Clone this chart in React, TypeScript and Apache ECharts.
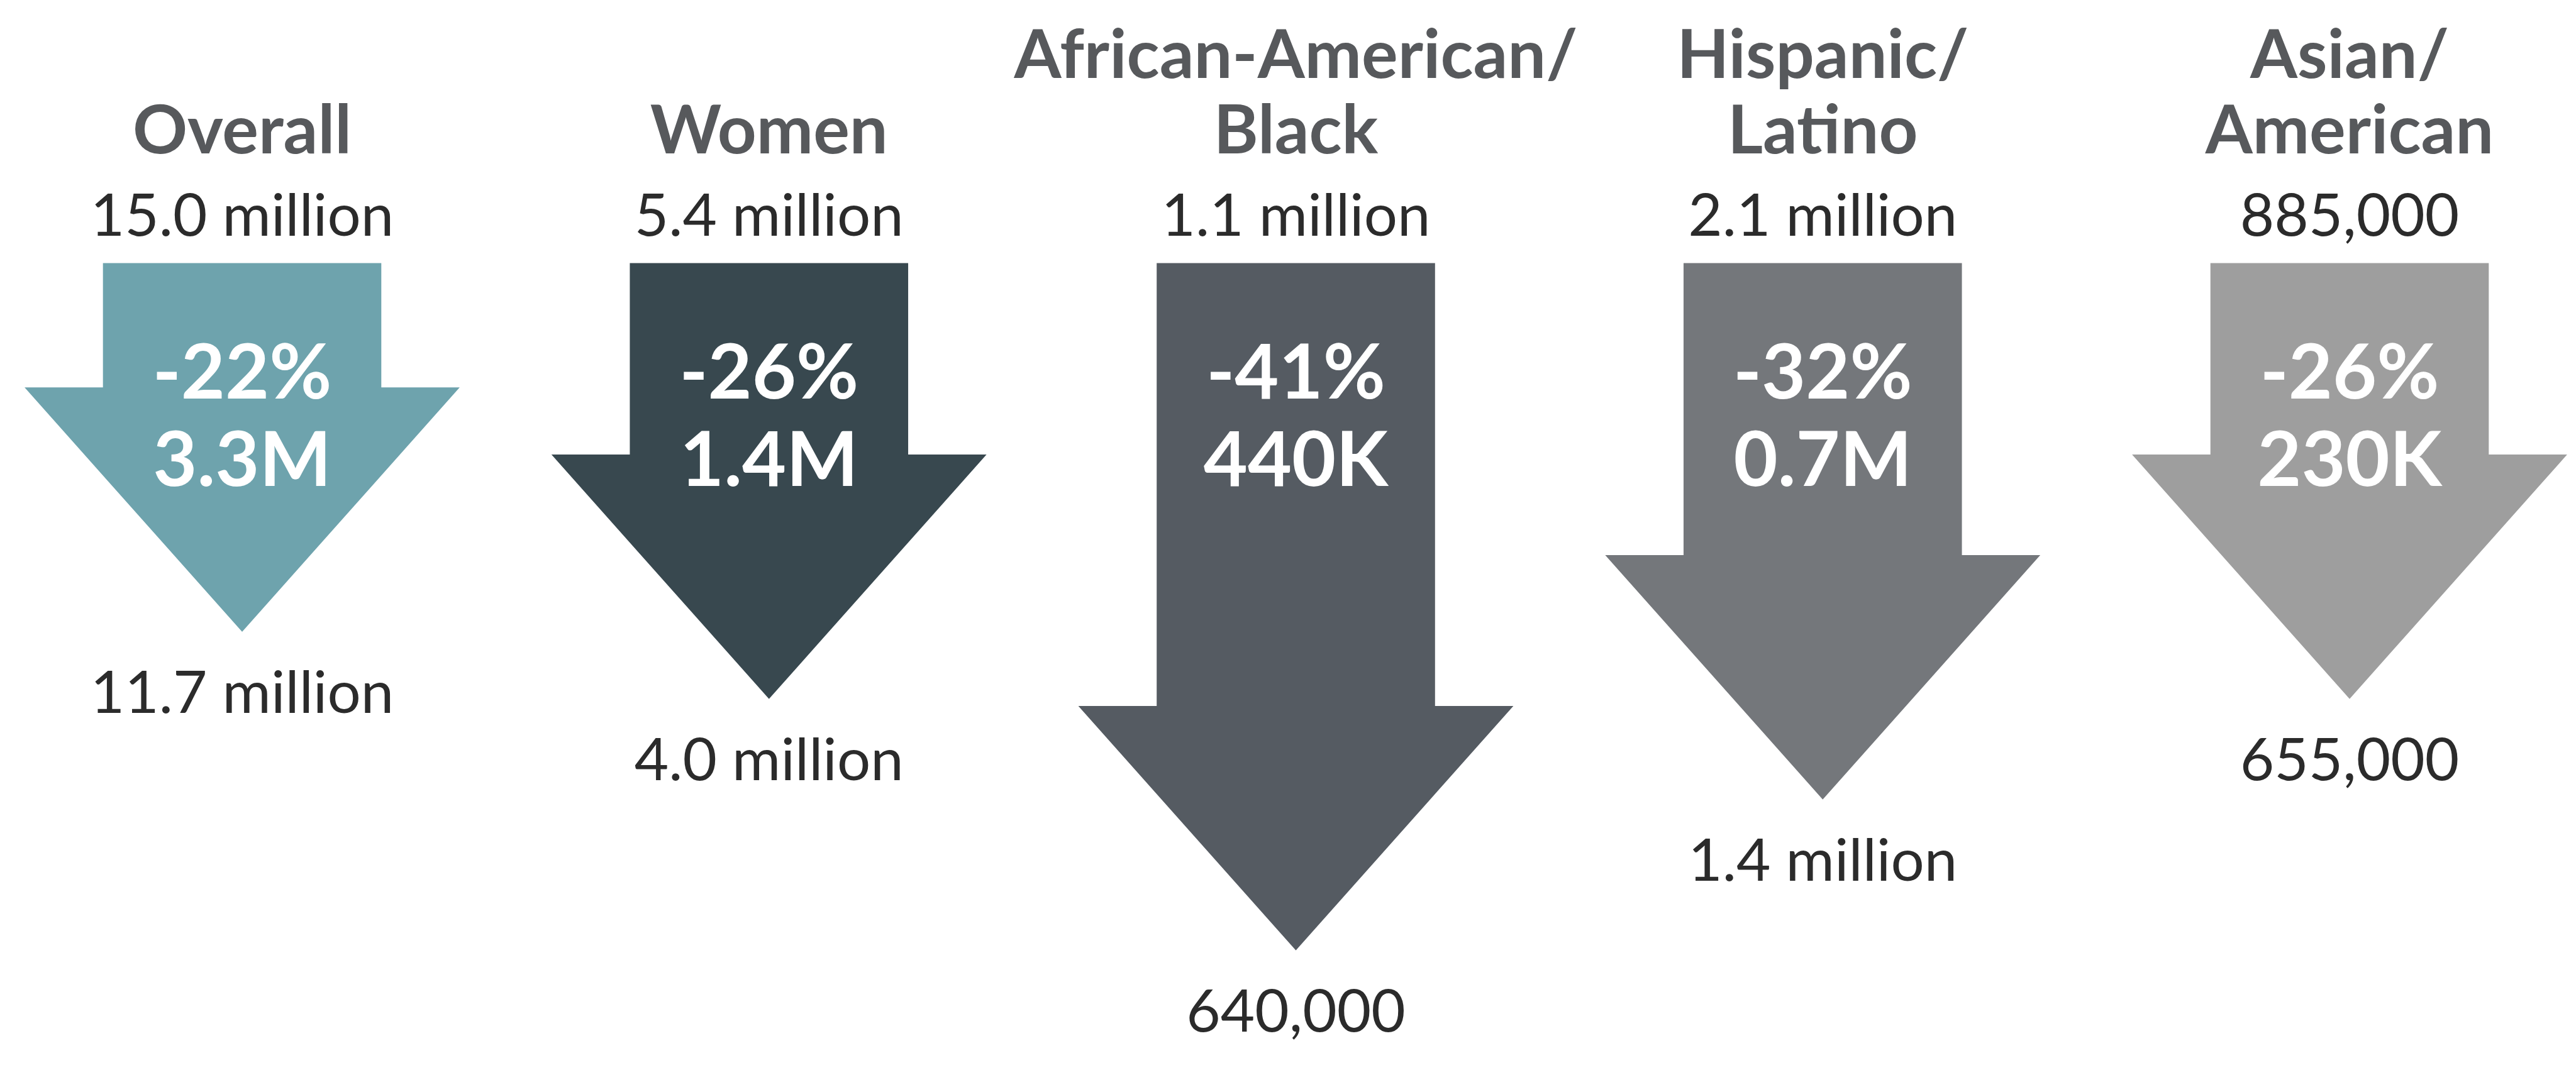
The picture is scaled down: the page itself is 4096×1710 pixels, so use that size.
import React, { useEffect, useRef } from "react";
import * as echarts from "echarts";

const categories = ["Overall", "Women", "African-American/\nBlack", "Hispanic/\nLatino", "Asian/\nAmerican"];
const startLabels = ["15.0 million", "5.4 million", "1.1 million", "2.1 million", "885,000"];
const endLabels = ["11.7 million", "4.0 million", "640,000", "1.4 million", "655,000"];
const pctDrop = [22, 26, 41, 32, 26];
const absDropLabels = ["3.3M", "1.4M", "440K", "0.7M", "230K"];
const arrowColors = ["#6ea3ad", "#38484f", "#555b62", "#74777b", "#9e9e9e"];

const FONT = "Lato, 'Open Sans', sans-serif";

export default function App() {
  const ref = useRef<HTMLDivElement>(null);
  useEffect(() => {
    if (!ref.current) return;
    const chart = echarts.init(ref.current, undefined, { renderer: "svg" });
    const shaftW = 442.6;
    const headHalf = 345.9;
    const headH = 388.7;
    const option: any = {
      animation: false,
      backgroundColor: "#ffffff",
      grid: { left: 385, right: 360, top: 418.4, bottom: 91.6 },
      xAxis: {
        type: "category",
        data: categories,
        boundaryGap: false,
        show: false,
      },
      yAxis: {
        type: "value",
        inverse: true,
        min: 0,
        max: 45,
        show: false,
      },
      series: [
        {
          type: "custom",
          clip: false,
          data: pctDrop.map((p, i) => [i, p]),
          renderItem: (params: any, api: any) => {
            const i = api.value(0);
            const v = api.value(1);
            const p0 = api.coord([i, 0]);
            const p1 = api.coord([i, v]);
            const cx = p0[0];
            const top = p0[1];
            const tip = p1[1];
            const neck = tip - headH;
            const color = arrowColors[i];
            return {
              type: "group",
              children: [
                {
                  type: "polygon",
                  shape: {
                    points: [
                      [cx - shaftW / 2, top],
                      [cx + shaftW / 2, top],
                      [cx + shaftW / 2, neck],
                      [cx + headHalf, neck],
                      [cx, tip],
                      [cx - headHalf, neck],
                      [cx - shaftW / 2, neck],
                    ],
                  },
                  style: { fill: color },
                },
                {
                  type: "text",
                  x: cx,
                  y: top - 156.8,
                  style: {
                    text: categories[i],
                    fill: "#57595c",
                    fontFamily: FONT,
                    fontWeight: "bold",
                    fontSize: 108,
                    lineHeight: 120,
                    align: "center",
                    verticalAlign: "bottom",
                  },
                },
                {
                  type: "text",
                  x: cx,
                  y: top - 80.1,
                  style: {
                    text: startLabels[i],
                    fill: "#2b2b2b",
                    fontFamily: FONT,
                    fontSize: 94,
                    align: "center",
                    verticalAlign: "middle",
                  },
                },
                {
                  type: "text",
                  x: cx,
                  y: top + 168.8,
                  style: {
                    text: "-" + pctDrop[i] + "%",
                    fill: "#ffffff",
                    fontFamily: FONT,
                    fontWeight: "bold",
                    fontSize: 121,
                    align: "center",
                    verticalAlign: "middle",
                  },
                },
                {
                  type: "text",
                  x: cx,
                  y: top + 308.2,
                  style: {
                    text: absDropLabels[i],
                    fill: "#ffffff",
                    fontFamily: FONT,
                    fontWeight: "bold",
                    fontSize: 121,
                    align: "center",
                    verticalAlign: "middle",
                  },
                },
                {
                  type: "text",
                  x: cx,
                  y: tip + 92.9,
                  style: {
                    text: endLabels[i],
                    fill: "#2b2b2b",
                    fontFamily: FONT,
                    fontSize: 94,
                    align: "center",
                    verticalAlign: "middle",
                  },
                },
              ],
            };
          },
        },
      ],
    };
    chart.setOption(option);
    return () => chart.dispose();
  }, []);
  return (
    <div
      ref={ref}
      style={{ position: "fixed", left: 0, top: 0, width: 4096, height: 1710, background: "#ffffff" }}
    />
  );
}
